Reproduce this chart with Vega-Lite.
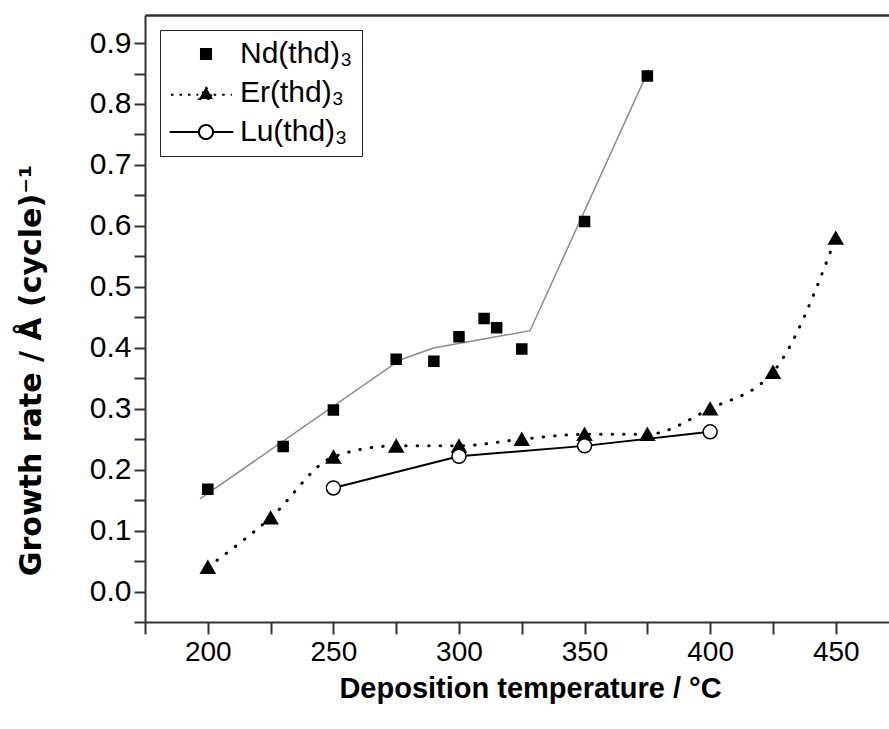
{
  "$schema": "https://vega.github.io/schema/vega-lite/v6.json",
  "width": 744,
  "height": 607,
  "autosize": {"type": "none"},
  "padding": {"left": 145, "top": 15, "right": 0, "bottom": 107},
  "background": "white",
  "config": {
    "view": {"stroke": null},
    "axis": {
      "domainColor": "#333", "domainWidth": 2, "tickColor": "#333", "tickWidth": 2,
      "labelColor": "black", "titleColor": "black", "grid": false,
      "labelFont": "Liberation Sans", "titleFont": "Liberation Sans", "titleFontWeight": "bold",
      "labelOverlap": false, "labelFlush": false
    }
  },
  "datasets": {
    "points": [
      {"series": "Nd(thd)₃", "t": 200, "g": 0.168},
      {"series": "Nd(thd)₃", "t": 230, "g": 0.238},
      {"series": "Nd(thd)₃", "t": 250, "g": 0.298},
      {"series": "Nd(thd)₃", "t": 275, "g": 0.381},
      {"series": "Nd(thd)₃", "t": 290, "g": 0.378},
      {"series": "Nd(thd)₃", "t": 300, "g": 0.418},
      {"series": "Nd(thd)₃", "t": 310, "g": 0.448},
      {"series": "Nd(thd)₃", "t": 315, "g": 0.433},
      {"series": "Nd(thd)₃", "t": 325, "g": 0.398},
      {"series": "Nd(thd)₃", "t": 350, "g": 0.607},
      {"series": "Nd(thd)₃", "t": 375, "g": 0.846},
      {"series": "Er(thd)₃", "t": 200, "g": 0.040},
      {"series": "Er(thd)₃", "t": 225, "g": 0.121},
      {"series": "Er(thd)₃", "t": 250, "g": 0.221},
      {"series": "Er(thd)₃", "t": 275, "g": 0.239},
      {"series": "Er(thd)₃", "t": 300, "g": 0.239},
      {"series": "Er(thd)₃", "t": 325, "g": 0.250},
      {"series": "Er(thd)₃", "t": 350, "g": 0.258},
      {"series": "Er(thd)₃", "t": 375, "g": 0.258},
      {"series": "Er(thd)₃", "t": 400, "g": 0.300},
      {"series": "Er(thd)₃", "t": 425, "g": 0.360},
      {"series": "Er(thd)₃", "t": 450, "g": 0.580},
      {"series": "Lu(thd)₃", "t": 250, "g": 0.170},
      {"series": "Lu(thd)₃", "t": 300, "g": 0.222},
      {"series": "Lu(thd)₃", "t": 350, "g": 0.239},
      {"series": "Lu(thd)₃", "t": 400, "g": 0.262}
    ],
    "fit": [
      {"t": 196.9, "g": 0.152},
      {"t": 276.5, "g": 0.380},
      {"t": 289.8, "g": 0.3995},
      {"t": 328.3, "g": 0.428},
      {"t": 375.5, "g": 0.856}
    ]
  },
  "encoding": {
    "y": {
      "field": "g", "type": "quantitative",
      "scale": {"domain": [-0.05, 0.946], "nice": false, "zero": false},
      "axis": {
        "title": "Growth rate / Å (cycle)⁻¹",
        "values": [-0.05, 0, 0.05, 0.1, 0.15, 0.2, 0.25, 0.3, 0.35, 0.4, 0.45, 0.5, 0.55, 0.6, 0.65, 0.7, 0.75, 0.8, 0.85, 0.9],
        "labelExpr": "round(datum.value * 100) % 10 === 0 ? format(datum.value, '.1f') : ''",
        "tickSize": 11,
        "labelFontSize": 30,
        "labelPadding": 3,
        "titleFont": "DejaVu Sans",
        "titleFontSize": 30,
        "titlePadding": 43,
        "titleY": 355,
        "encode": {"ticks": {"x2": {"value": {"expr": "round(datum.value * 100) % 10 === 0 ? -11 : -6"}}}}
      }
    }
  },
  "resolve": {
    "axis": {"x": "independent"},
    "scale": {"shape": "independent", "fill": "independent", "strokeDash": "independent", "stroke": "independent"}
  },
  "layer": [
    {
      "data": {"name": "fit"},
      "mark": {"type": "line", "color": "#8a8a8a", "strokeWidth": 1.5},
      "encoding": {
        "x": {
          "field": "t", "type": "quantitative",
          "scale": {"domain": [175, 471.2], "nice": false, "zero": false},
          "axis": {"orient": "top", "labels": false, "ticks": false, "title": null, "domainWidth": 2.5}
        }
      }
    },
    {
      "data": {"name": "points"},
      "transform": [{"filter": "datum.series === 'Er(thd)₃'"}],
      "mark": {"type": "line", "color": "black", "strokeWidth": 3, "strokeDash": [0.5, 11], "strokeCap": "round", "interpolate": "monotone"},
      "encoding": {
        "x": {
          "field": "t", "type": "quantitative",
          "axis": {
            "orient": "bottom",
            "title": "Deposition temperature / °C",
            "values": [175, 200, 225, 250, 275, 300, 325, 350, 375, 400, 425, 450],
            "labelExpr": "datum.value % 50 === 0 ? datum.label : ''",
            "format": "d",
            "tickSize": 12,
            "labelFontSize": 28,
            "labelPadding": 4,
            "titleFontSize": 29,
            "titlePadding": 8,
            "titleX": 385,
            "encode": {"ticks": {"y2": {"value": {"expr": "datum.value % 50 === 0 ? 12 : 7"}}}}
          }
        }
      }
    },
    {
      "data": {"name": "points"},
      "transform": [{"filter": "datum.series === 'Lu(thd)₃'"}],
      "mark": {"type": "line", "color": "black", "strokeWidth": 2},
      "encoding": {
        "x": {"field": "t", "type": "quantitative", "axis": null}
      }
    },
    {
      "data": {"name": "points"},
      "mark": {"type": "point", "filled": true, "opacity": 1, "strokeWidth": 1.5},
      "encoding": {
        "x": {"field": "t", "type": "quantitative", "axis": null},
        "shape": {
          "field": "series", "type": "nominal",
          "scale": {"domain": ["Nd(thd)₃", "Er(thd)₃", "Lu(thd)₃"], "range": ["square", "triangle-up", "circle"]},
          "legend": null
        },
        "fill": {"condition": {"test": "datum.series === 'Lu(thd)₃'", "value": "white"}, "value": "black"},
        "size": {"condition": {"test": "datum.series === 'Nd(thd)₃'", "value": 100}, "value": 196},
        "stroke": {"value": "black"}
      }
    },
    {
      "data": {"name": "points"},
      "mark": {"type": "point", "filled": false, "opacity": 0, "strokeWidth": 2},
      "encoding": {
        "x": {"field": "t", "type": "quantitative", "axis": null},
        "shape": {
          "field": "series", "type": "nominal",
          "scale": {
            "domain": ["Nd(thd)₃", "Er(thd)₃", "Lu(thd)₃"],
            "range": [
              "M-0.72,-0.72H0.72V0.72H-0.72Z",
              "M-5.0,0.25H-1.1M1.1,0.25H3.7M0,-0.85L1,0.85L-1,0.85Z",
              "M-5.2,0H-1M1,0H3.9M1,0A1,1 0 1 1 -1,0A1,1 0 1 1 1,0"
            ]
          },
          "legend": {
            "title": null,
            "orient": "top-left",
            "offset": 15,
            "strokeColor": "#222",
            "fillColor": "white",
            "padding": 9,
            "labelFont": "Liberation Sans",
            "labelFontSize": 30,
            "labelColor": "black",
            "symbolOffset": 22,
            "labelOffset": 19,
            "rowPadding": 9,
            "symbolSize": 196,
            "symbolOpacity": 1,
            "symbolStrokeColor": "black",
            "symbolStrokeWidth": 2
          }
        },
        "fill": {
          "field": "series", "type": "nominal",
          "scale": {"domain": ["Nd(thd)₃", "Er(thd)₃", "Lu(thd)₃"], "range": ["black", "black", "white"]}
        },
        "stroke": {
          "field": "series", "type": "nominal",
          "scale": {"domain": ["Nd(thd)₃", "Er(thd)₃", "Lu(thd)₃"], "range": ["black", "black", "black"]}
        },
        "strokeDash": {
          "field": "series", "type": "nominal",
          "scale": {"domain": ["Nd(thd)₃", "Er(thd)₃", "Lu(thd)₃"], "range": [[1, 0], [2.5, 6], [1, 0]]}
        }
      }
    }
  ]
}
